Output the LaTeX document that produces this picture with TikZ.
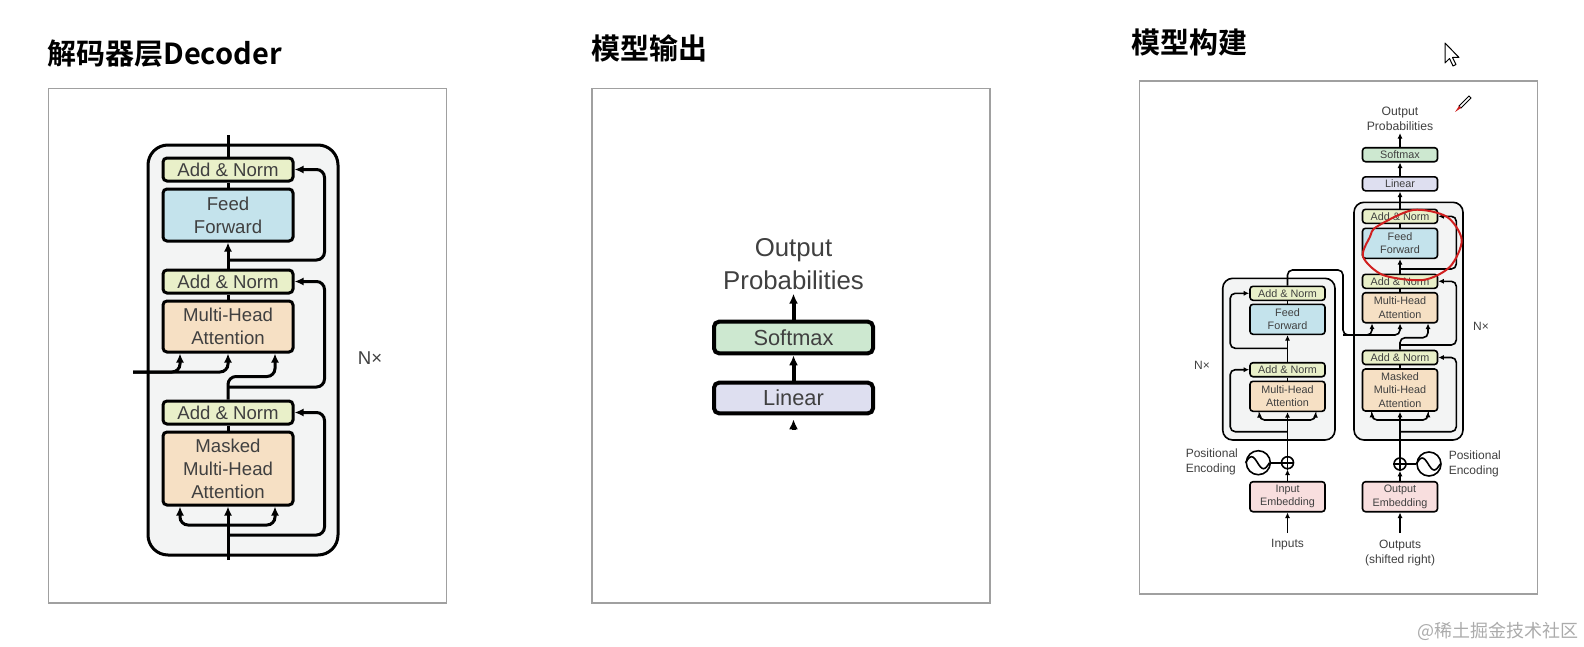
\documentclass[tikz,border=0pt]{standalone}
\usepackage{fontspec}
\setmainfont{Liberation Sans}
\newfontfamily\cjk[BoldFont={Noto Sans CJK SC Bold}]{Noto Sans CJK SC}
\usetikzlibrary{arrows.meta}
\definecolor{ancol}{HTML}{E9F0C9}
\definecolor{ffcol}{HTML}{C4E3EC}
\definecolor{mhacol}{HTML}{F6E0C4}
\definecolor{smcol}{HTML}{CDE8D0}
\definecolor{lincol}{HTML}{DEDFF0}
\definecolor{embcol}{HTML}{F8DEDE}
\definecolor{layerbg}{HTML}{F3F4F4}
\definecolor{txtcol}{HTML}{404040}
\definecolor{framecol}{HTML}{A0A0A0}
\definecolor{wmcol}{HTML}{ABABAB}
\definecolor{penred}{HTML}{D02020}
\tikzset{
  blk/.style={draw, rounded corners=2pt, inner sep=0pt, align=center, text=txtcol},
  an/.style={blk, fill=ancol},
  ff/.style={blk, fill=ffcol},
  mha/.style={blk, fill=mhacol},
  sm/.style={blk, fill=smcol},
  linbox/.style={blk, fill=lincol},
  emb/.style={blk, fill=embcol},
  layer/.style={fill=layerbg},
  lbl/.style={text=txtcol, align=center, inner sep=1pt},
  title/.style={anchor=west, inner sep=0pt, font=\cjk\bfseries\fontsize{14.5}{16}\selectfont},
  frame/.style={draw=framecol, line width=0.6pt}
}
\begin{document}
\begin{tikzpicture}[x=0.5pt,y=-0.5pt]
\useasboundingbox (0,0) rectangle (1584,647);
\node[title] (t1) at (47,54) {解码器层Decoder};
\node[title] (t2) at (591,48.7) {模型输出};
\node[title] (t3) at (1131,42.5) {模型构建};
\draw[frame] (48.5,88.5) rectangle (446.5,603);
\draw[frame] (592,88.5) rectangle (990,603);
\draw[frame] (1139.5,81) rectangle (1537.5,594);

\begin{scope}[line width=1.5pt, rounded corners=4pt, >={Latex[length=4.5pt,width=4pt]},
  font=\fontsize{9.3}{11.5}\selectfont, blk/.append style={minimum width=65pt}]
\draw[layer, rounded corners=10pt] (148,145) rectangle (338,555);
\node[an, minimum height=11.5pt] (an1) at (228,169.5) {Add \& Norm};
\node[ff, minimum height=26pt] (ff) at (228,215) {Feed\\Forward};
\node[an, minimum height=11.5pt] (an2) at (228,281.5) {Add \& Norm};
\node[mha, minimum height=25.5pt] (mha) at (228,326.5) {Multi-Head\\Attention};
\node[an, minimum height=11.5pt] (an3) at (228,412.5) {Add \& Norm};
\node[mha, minimum height=36.5pt] (mmha) at (228,468.5) {Masked\\Multi-Head\\Attention};
\node[lbl] (nx) at (370,358) {N×};
\coordinate (in) at (228,560);
\coordinate (out) at (228,135);
\coordinate (enc) at (133,372);
\coordinate (mb) at (228,525);
\coordinate (r1) at (228,260);
\coordinate (r2) at (228,387);
\coordinate (r3) at (228,535);
\draw[->] (in) -- (mmha.south);
\draw[->] (mb) -| ([xshift=-24pt]mmha.south);
\draw[->] (mb) -| ([xshift=23.5pt]mmha.south);
\draw[->] (r3) -| ([xshift=15pt]an3.east) -- (an3.east);
\draw (mmha.north) -- (an3.south);
\draw[->] (an3.north) -- ++(0,-23) -| ([xshift=23.5pt]mha.south);
\draw[->] (r2) -| ([xshift=15pt]an2.east) -- (an2.east);
\draw[->] (enc) -| (mha.south);
\draw[->] (enc) -| ([xshift=-24pt]mha.south);
\draw (mha.north) -- (an2.south);
\draw[->] (an2.north) -- (ff.south);
\draw[->] (r1) -| ([xshift=15pt]an1.east) -- (an1.east);
\draw (ff.north) -- (an1.south);
\draw (an1.north) -- (out);
\end{scope}

\begin{scope}[line width=2pt, >={Latex[length=5pt,width=4.5pt]},
  font=\fontsize{10.9}{12}\selectfont, blk/.append style={minimum width=79.5pt, rounded corners=2.5pt}]
\node[sm, minimum height=15.8pt] (soft) at (793.5,337.5) {Softmax};
\node[linbox, minimum height=15.3pt] (linear) at (793.5,398) {Linear};
\node[lbl, font=\fontsize{12.9}{16.5}\selectfont] (prob) at (793.5,264) {Output\\Probabilities};
\coordinate (linin) at (793.5,430);
\draw[->] (soft.north) -- (prob.south);
\draw[->] (linear.north) -- (soft.south);
\draw[->, shorten >=2pt] (linin) -- (linear.south);
\end{scope}

\begin{scope}[line width=0.8pt, rounded corners=2.5pt, >={Latex[length=2.8pt,width=2.6pt]},
  font=\fontsize{5.4}{6.7}\selectfont, blk/.append style={minimum width=37.5pt, rounded corners=1.5pt}]
\node[lbl, font=\fontsize{6.1}{7.5}\selectfont] (dprob) at (1400,118.5) {Output\\Probabilities};
\node[sm, minimum height=7pt] (dsoft) at (1400,154.7) {Softmax};
\node[linbox, minimum height=7pt] (dlinear) at (1400,183.8) {Linear};
\draw[layer, rounded corners=5pt] (1354,202.3) rectangle (1463,440);
\draw[layer, rounded corners=5pt] (1222.7,278.3) rectangle (1335,440);
\node[an, minimum height=7pt] (dan3) at (1400,216.3) {Add \& Norm};
\node[ff, minimum height=15pt] (dff) at (1400,243.3) {Feed\\Forward};
\node[an, minimum height=7pt] (dan2) at (1400,281.3) {Add \& Norm};
\node[mha, minimum height=15pt] (dmha) at (1400,307.7) {Multi-Head\\Attention};
\node[an, minimum height=7pt] (dan1) at (1400,357.5) {Add \& Norm};
\node[mha, minimum height=21pt] (dmmha) at (1400,390) {Masked\\Multi-Head\\Attention};
\node[emb, minimum height=15pt] (demb) at (1400,496.7) {Output\\Embedding};
\node[an, minimum height=7pt] (ean2) at (1287.5,293.3) {Add \& Norm};
\node[ff, minimum height=15pt] (eff) at (1287.5,319.3) {Feed\\Forward};
\node[an, minimum height=7pt] (ean1) at (1287.5,369.7) {Add \& Norm};
\node[mha, minimum height=15pt] (emha) at (1287.5,396.3) {Multi-Head\\Attention};
\node[emb, minimum height=15pt] (eemb) at (1287.5,496.7) {Input\\Embedding};
\node[circle, draw, minimum size=6pt, inner sep=0pt] (eplus) at (1287.5,462.7) {};
\node[circle, draw, minimum size=12pt, inner sep=0pt] (esine) at (1258.3,462.7) {};
\node[circle, draw, minimum size=6pt, inner sep=0pt] (dplus) at (1400,464) {};
\node[circle, draw, minimum size=12pt, inner sep=0pt] (dsine) at (1429,464) {};
\draw[sharp corners] (eplus.north) -- (eplus.south) (eplus.west) -- (eplus.east);
\draw[sharp corners] (dplus.north) -- (dplus.south) (dplus.west) -- (dplus.east);
\draw[sharp corners] (esine.west) sin ++(6,-6) cos ++(6,6) sin ++(6,6) cos ++(6,-6);
\draw[sharp corners] (dsine.west) sin ++(6,-6) cos ++(6,6) sin ++(6,6) cos ++(6,-6);
\draw (esine) -- (eplus);
\draw (dsine) -- (dplus);
\node[lbl, font=\fontsize{6}{7.6}\selectfont, anchor=west, align=left] (epos) at (1183,461.5) {Positional\\Encoding};
\node[lbl, font=\fontsize{6}{7.6}\selectfont, anchor=west, align=left] (dpos) at (1446,464) {Positional\\Encoding};
\node[lbl, font=\fontsize{6}{7.6}\selectfont] (inputs) at (1287.5,545) {Inputs};
\node[lbl, font=\fontsize{6}{7.2}\selectfont] (outputs) at (1400,553) {Outputs\\(shifted right)};
\node[lbl, font=\fontsize{6}{7}\selectfont] (enx) at (1202,365) {N×};
\node[lbl, font=\fontsize{6}{7}\selectfont] (dnx) at (1481,326) {N×};
\coordinate (ein) at (1287.5,533);
\coordinate (din) at (1400,533);
\coordinate (ebr) at (1287.5,420);
\coordinate (dbr) at (1400,420);
\coordinate (er1) at (1287.5,431.7);
\coordinate (er2) at (1287.5,348.3);
\coordinate (dr1) at (1400,431.7);
\coordinate (dr2) at (1400,345);
\coordinate (dr3) at (1400,269);
\coordinate (eturn) at (1343,270);
\coordinate (ekv) at (1343,335);
\draw[->] (ein) -- (eemb.south);
\draw[->] (eemb.north) -- (eplus);
\draw[->] (eplus) -- (emha.south);
\draw[->] (ebr) -| ([xshift=-14pt]emha.south);
\draw[->] (ebr) -| ([xshift=14pt]emha.south);
\draw[->] (er1) -| ([xshift=-9.5pt]ean1.west) -- (ean1.west);
\draw (emha.north) -- (ean1.south);
\draw[->] (ean1.north) -- (eff.south);
\draw[->] (er2) -| ([xshift=-9.5pt]ean2.west) -- (ean2.west);
\draw (eff.north) -- (ean2.south);
\draw[->] (ean2.north) |- (eturn) -- (ekv) -| (dmha.south);
\draw[->] (ekv) -| ([xshift=-14pt]dmha.south);
\draw[->] (din) -- (demb.south);
\draw[->] (demb.north) -- (dplus);
\draw[->] (dplus) -- (dmmha.south);
\draw[->] (dbr) -| ([xshift=-14pt]dmmha.south);
\draw[->] (dbr) -| ([xshift=14pt]dmmha.south);
\draw[->] (dr1) -| ([xshift=9pt]dan1.east) -- (dan1.east);
\draw (dmmha.north) -- (dan1.south);
\draw[->] (dan1.north) -- ++(0,-12) -| ([xshift=14pt]dmha.south);
\draw[->] (dr2) -| ([xshift=9pt]dan2.east) -- (dan2.east);
\draw (dmha.north) -- (dan2.south);
\draw[->] (dan2.north) -- (dff.south);
\draw[->] (dr3) -| ([xshift=9pt]dan3.east) -- (dan3.east);
\draw (dff.north) -- (dan3.south);
\draw[->] (dan3.north) -- (dlinear.south);
\draw[->] (dlinear.north) -- (dsoft.south);
\draw[->] (dsoft.north) -- (dprob.south);
\end{scope}

\draw[penred, line width=1pt] plot[smooth cycle] coordinates {(1376.7,226.7) (1413,210) (1446.7,216.7) (1461.7,240) (1450,266.7) (1423,280) (1383,275) (1363,256.7) (1370,236.7)};
\draw[line width=0.4pt, fill=white] (1471,98) -- (1461,108) -- (1459,106) -- (1469,96) -- cycle;
\fill[penred] (1461,108) -- (1455,112) -- (1459,106) -- cycle;
\draw[line width=0.5pt, fill=white, line join=round] (1445,43) -- ++(0,20) -- ++(4.5,-4.5) -- ++(3.5,7.5) -- ++(3,-1.5) -- ++(-3.5,-7) -- ++(6.5,0) -- cycle;
\node[anchor=east, inner sep=0pt, text=wmcol, font=\cjk\fontsize{9}{10}\selectfont] (wm) at (1579,631.7) {@稀土掘金技术社区};
\end{tikzpicture}
\end{document}
